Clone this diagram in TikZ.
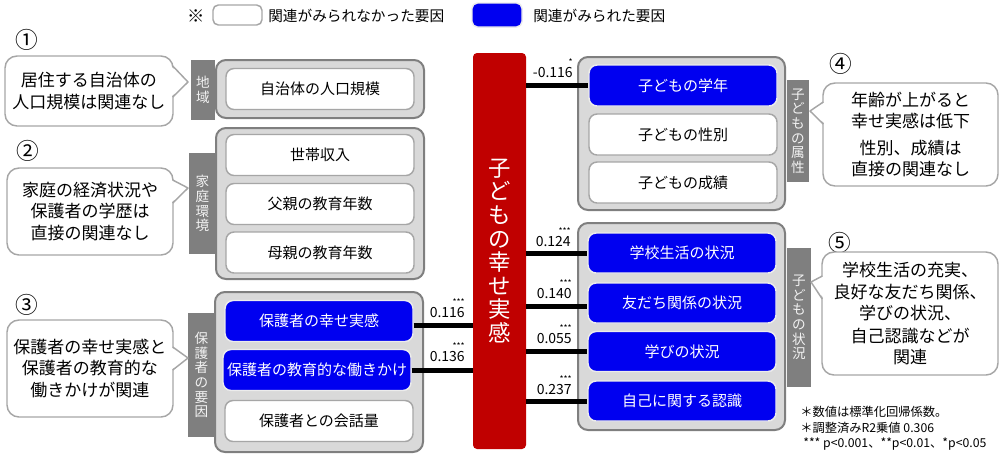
\documentclass[tikz,border=0pt]{standalone}
\usepackage{fontspec}
\setmainfont{Noto Sans CJK JP}
\usetikzlibrary{calc}
\definecolor{redbar}{HTML}{C00000}
\definecolor{bluebox}{HTML}{0000F0}
\definecolor{stripgray}{HTML}{7F7F7F}
\definecolor{outerfill}{HTML}{D9D9D9}
\definecolor{outerdraw}{HTML}{7F7F7F}
\definecolor{innerdraw}{HTML}{A6A6A6}
\definecolor{calloutdraw}{HTML}{A6A6A6}
\newcommand{\sigstars}[1]{\llap{\raisebox{9pt}{\fontsize{6.5pt}{6.5pt}\selectfont #1}}}
\begin{document}
\begin{tikzpicture}[x=0.75pt,y=-0.75pt,
  outerbox/.style={draw=outerdraw, line width=1.5pt, fill=outerfill, rounded corners=7.5pt, inner sep=0pt},
  whitebox/.style={draw=innerdraw, line width=1.1pt, fill=white, rounded corners=6pt, minimum width=141pt, minimum height=30.75pt, inner sep=0pt, font=\fontsize{11.25pt}{13pt}\selectfont},
  bluebox/.style={whitebox, fill=bluebox, draw=white!85!gray, text=white},
  strip/.style={fill=stripgray, text=white!90!gray, inner sep=0pt, font=\fontsize{10.2pt}{11pt}\selectfont, align=center},
  callout/.style={draw=calloutdraw, line width=1.1pt, fill=white, rounded corners=9pt, align=center, inner sep=0pt, font=\fontsize{12.75pt}{16pt}\selectfont},
  calloutline/.style={draw=calloutdraw, line width=1.1pt, line join=round},
  conn/.style={line width=3.75pt, black},
  coef/.style={font=\fontsize{10.5pt}{11pt}\selectfont, inner sep=0pt, anchor=south east},
  cnum/.style={font=\fontsize{17pt}{17pt}\selectfont, inner sep=0pt},
  legtext/.style={font=\fontsize{11pt}{12pt}\selectfont, inner sep=0pt},
  foot/.style={font=\fontsize{9.2pt}{10pt}\selectfont, inner sep=0pt, anchor=west},
]
\useasboundingbox (0,0) rectangle (1004,461);

% legend
\node[legtext, font=\fontsize{13pt}{13pt}\selectfont] (ref) at (196,16) {※};
\node[whitebox, minimum width=36.75pt, minimum height=15pt, rounded corners=4pt] (legw) at (237.5,15) {};
\node[legtext, anchor=west] (legwt) at (268,16) {関連がみられなかった要因};
\node[bluebox, minimum width=37.5pt, minimum height=18pt, rounded corners=4pt] (legb) at (497,15) {};
\node[legtext, anchor=west] (legbt) at (533,16) {関連がみられた要因};

% circled numbers
\node[cnum] (n1) at (27,40) {①};
\node[cnum] (n2) at (28,151) {②};
\node[cnum] (n3) at (27,305) {③};
\node[cnum] (n4) at (841,64) {④};
\node[cnum] (n5) at (840,243) {⑤};

% group 1
\node[outerbox, minimum width=156pt, minimum height=43.5pt] (g1) at (320,89) {};
\node[whitebox] (a1) at (320,89) {自治体の人口規模};
\node[strip, minimum width=18pt, minimum height=45pt] (s1) at (203,90) {地\\域};

% group 2
\node[outerbox, minimum width=156pt, minimum height=113.25pt] (g2) at (320,203.5) {};
\node[whitebox] (b1) at (320,155) {世帯収入};
\node[whitebox] (b2) at (320,204) {父親の教育年数};
\node[whitebox] (b3) at (320,252.5) {母親の教育年数};
\node[strip, minimum width=20.25pt, minimum height=75.75pt] (s2) at (202.5,203.5) {家\\庭\\環\\境};

% group 3
\node[outerbox, minimum width=156pt, minimum height=120pt] (g3) at (319,372) {};
\node[bluebox] (p1) at (319,321) {保護者の幸せ実感};
\node[bluebox] (p2) at (317,370) {保護者の教育的な働きかけ};
\node[whitebox] (p3) at (319,421) {保護者との会話量};
\node[strip, minimum width=20.25pt, minimum height=93pt] (s3) at (201.5,375) {保\\護\\者\\の\\要\\因};

% central bar
\node[fill=redbar, rounded corners=3pt, minimum width=39.75pt, minimum height=297pt, text=white, align=center, font=\fontsize{16.8pt}{17.7pt}\selectfont, inner sep=0pt] (red) at (499.5,251) {子\\ど\\も\\の\\幸\\せ\\実\\感};

% group 4
\node[outerbox, minimum width=155.25pt, minimum height=114.75pt] (g4) at (681.5,133.5) {};
\node[bluebox] (c1) at (683,85.5) {子どもの学年};
\node[whitebox] (c2) at (683,134.5) {子どもの性別};
\node[whitebox] (c3) at (683,182.5) {子どもの成績};
\node[strip, minimum width=16.5pt, minimum height=76.5pt] (s4) at (798,131) {子\\ど\\も\\の\\属\\性};

% group 5
\node[outerbox, minimum width=155.25pt, minimum height=155.25pt] (g5) at (681.5,326.5) {};
\node[bluebox, minimum height=30pt] (d1) at (682,253) {学校生活の状況};
\node[bluebox, minimum height=30pt] (d2) at (682,303) {友だち関係の状況};
\node[bluebox, minimum height=30pt] (d3) at (682,351.5) {学びの状況};
\node[bluebox, minimum height=30pt] (d4) at (682,401) {自己に関する認識};
\node[strip, minimum width=18pt, minimum height=104.25pt] (s5) at (799,317.5) {子\\ど\\も\\の\\状\\況};

% connectors
\draw[conn] (red.east |- c1.west) -- (c1.west);
\draw[conn] (red.east |- d1.west) -- (d1.west);
\draw[conn] ($(red.east |- d2.west)+(0,3)$) -- ($(d2.west)+(0,3)$);
\draw[conn] (red.east |- d3.west) -- (d3.west);
\draw[conn] (red.east |- d4.west) -- (d4.west);
\draw[conn] ($(p1.east)+(0,4)$) -- ($(red.west |- p1.east)+(0,4)$);
\draw[conn] (p2.east) -- (red.west |- p2.east);

% coefficients
\node[coef] (k1) at (573,78) {-0.116\sigstars{*}};
\node[coef] (k2) at (571,247) {0.124\sigstars{***}};
\node[coef] (k3) at (572,299) {0.140\sigstars{***}};
\node[coef] (k4) at (572,344) {0.055\sigstars{***}};
\node[coef] (k5) at (572,395) {0.237\sigstars{***}};
\node[coef] (k6) at (465,318) {0.116\sigstars{***}};
\node[coef] (k7) at (465,362) {0.136\sigstars{***}};

% callouts
\node[callout, minimum width=126pt, minimum height=52.5pt] (co1) at (89,91) {居住する自治体の\\人口規模は関連なし};
\coordinate (t1) at (188,82);
\fill[white] ($(co1.east)+(-3,-25)$) -- (t1) -- ($(co1.east)+(-3,6)$) -- cycle;
\draw[calloutline] ($(co1.east)+(-1,-25)$) -- (t1) -- ($(co1.east)+(-1,6)$);

\node[callout, minimum width=124.5pt, minimum height=65.25pt] (co2) at (90,211.5) {家庭の経済状況や\\保護者の学歴は\\直接の関連なし};
\coordinate (t2) at (188,188);
\fill[white] ($(co2.east)+(-3,-31.5)$) -- (t2) -- ($(co2.east)+(-3,-8.5)$) -- cycle;
\draw[calloutline] ($(co2.east)+(-1,-31.5)$) -- (t2) -- ($(co2.east)+(-1,-8.5)$);

\node[callout, minimum width=124.5pt, minimum height=72.75pt] (co3) at (90,368.5) {保護者の幸せ実感と\\保護者の教育的な\\働きかけが関連};
\coordinate (t3) at (188,358);
\fill[white] ($(co3.east)+(-3,-21.5)$) -- (t3) -- ($(co3.east)+(-3,1.5)$) -- cycle;
\draw[calloutline] ($(co3.east)+(-1,-21.5)$) -- (t3) -- ($(co3.east)+(-1,1.5)$);

\node[callout, minimum width=131.25pt, minimum height=77.25pt] (co4) at (910.5,134.5) {年齢が上がると\\幸せ実感は低下\\[3.75pt]性別、成績は\\直接の関連なし};
\coordinate (t4) at (810,111);
\fill[white] ($(co4.west)+(3,-32.5)$) -- (t4) -- ($(co4.west)+(3,-10.5)$) -- cycle;
\draw[calloutline] ($(co4.west)+(1,-32.5)$) -- (t4) -- ($(co4.west)+(1,-10.5)$);

\node[callout, minimum width=132pt, minimum height=92.25pt, font=\fontsize{12.75pt}{16.5pt}\selectfont] (co5) at (910,313.5) {学校生活の充実、\\良好な友だち関係、\\学びの状況、\\自己認識などが\\関連};
\coordinate (t5) at (811,282);
\fill[white] ($(co5.west)+(3,-37.5)$) -- (t5) -- ($(co5.west)+(3,-14.5)$) -- cycle;
\draw[calloutline] ($(co5.west)+(1,-37.5)$) -- (t5) -- ($(co5.west)+(1,-14.5)$);

% footnotes
\node[foot] (f1) at (800,412) {＊数値は標準化回帰係数。};
\node[foot] (f2) at (800,428) {＊調整済みR2乗値 0.306};
\node[foot] (f3) at (803,444) {*** p<0.001、**p<0.01、*p<0.05};
\end{tikzpicture}
\end{document}
